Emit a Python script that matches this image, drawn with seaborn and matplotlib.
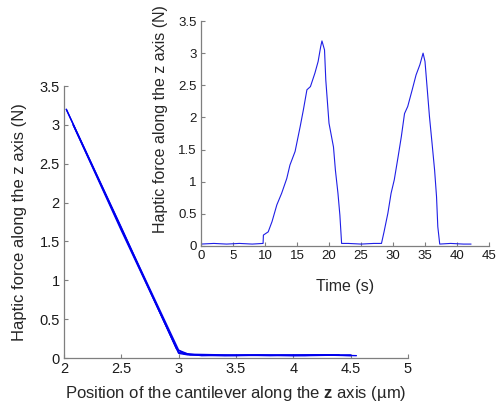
import matplotlib
matplotlib.use("Agg")
import matplotlib.pyplot as plt
import seaborn as sns
import pandas as pd

# ---- Main plot data: force vs cantilever position (several overlapping passes)
pos_pass1 = [4.55, 4.3, 4.0, 3.7, 3.4, 3.1, 3.0, 2.5, 2.02]
force_pass1 = [0.03, 0.04, 0.03, 0.04, 0.03, 0.04, 0.10, 1.67, 3.20]
pos_pass2 = [2.02, 2.5, 2.98, 3.05, 3.4, 3.8, 4.2, 4.5]
force_pass2 = [3.20, 1.68, 0.12, 0.05, 0.04, 0.03, 0.04, 0.03]
pos_pass3 = [4.5, 4.1, 3.6, 3.2, 3.0, 2.5, 2.08]
force_pass3 = [0.04, 0.03, 0.04, 0.03, 0.07, 1.64, 3.00]
pos_pass4 = [2.08, 2.5, 3.0, 3.08, 3.5, 3.9, 4.4]
force_pass4 = [3.00, 1.66, 0.06, 0.04, 0.03, 0.04, 0.04]

main_xticks = [2, 2.5, 3, 3.5, 4, 4.5, 5]
main_yticks = [0, 0.5, 1, 1.5, 2, 2.5, 3, 3.5]

# ---- Inset data: force vs time
time_s = [0, 2, 4, 6, 8, 9.7, 9.75, 10.5, 11.1, 11.85, 12.6, 13.4, 13.9, 14.7, 15.5, 16.0,
          16.55, 17.1, 17.8, 18.3, 18.7, 18.9, 19.3, 19.5, 20.0, 20.7,
          21.0, 21.4, 21.7, 21.97, 23, 25, 27, 28.2, 28.6, 29.2,
          29.7, 30.2, 30.8, 31.3, 31.8, 32.3, 33.0, 33.6, 34.2, 34.7,
          35.0, 35.7, 36.1, 36.5, 36.8, 37.0, 37.3, 39, 41, 42.2]
force_t = [0.03, 0.04, 0.03, 0.04, 0.03, 0.04, 0.17, 0.22, 0.38, 0.64, 0.82, 1.05, 1.26, 1.47, 1.86, 2.12,
           2.43, 2.48, 2.69, 2.87, 3.10, 3.19, 3.05, 2.58, 1.91, 1.54,
           1.18, 0.82, 0.48, 0.04, 0.04, 0.03, 0.04, 0.04, 0.22, 0.51,
           0.82, 1.03, 1.39, 1.70, 2.06, 2.17, 2.43, 2.66, 2.82, 3.00,
           2.87, 2.01, 1.60, 1.18, 0.77, 0.30, 0.03, 0.04, 0.03, 0.03]

inset_xticks = [0, 5, 10, 15, 20, 25, 30, 35, 40, 45]
inset_yticks = [0, 0.5, 1, 1.5, 2, 2.5, 3, 3.5]

sns.set_theme(style="white")
plt.rcParams["font.family"] = ["Liberation Sans", "DejaVu Sans"]
plt.rcParams["mathtext.fontset"] = "custom"
plt.rcParams["mathtext.rm"] = "Liberation Sans"
plt.rcParams["mathtext.bf"] = "Liberation Sans:bold"
plt.rcParams["text.color"] = "#1a1a1a"

fig = plt.figure(figsize=(4.98, 4.04), dpi=100)
fig.patch.set_facecolor("white")

spine_col = "#7f7f7f"
line_col = "#0000ee"


def style_axes(ax, fs):
    for s in ["top", "right"]:
        ax.spines[s].set_visible(False)
    for s in ["left", "bottom"]:
        ax.spines[s].set_color(spine_col)
        ax.spines[s].set_linewidth(0.9)
    ax.tick_params(direction="in", length=3, width=0.8, color=spine_col,
                   labelsize=fs, labelcolor="#1a1a1a", pad=3,
                   left=True, bottom=True)
    ax.set_facecolor("none")


fmt = lambda v, p: f"{v:g}"

# Main axes
ax = fig.add_axes([64 / 498, 1 - 358 / 404, 344 / 498, 272 / 404])
passes = [(pos_pass1, force_pass1), (pos_pass2, force_pass2),
          (pos_pass3, force_pass3), (pos_pass4, force_pass4)]
for px, fy in passes:
    df = pd.DataFrame({"pos": px, "force": fy})
    sns.lineplot(data=df, x="pos", y="force", sort=False, estimator=None,
                 color=line_col, lw=1.0, ax=ax)
ax.set_xlim(2, 5)
ax.set_ylim(0, 3.5)
ax.set_xticks(main_xticks)
ax.set_yticks(main_yticks)
ax.xaxis.set_major_formatter(plt.FuncFormatter(fmt))
ax.yaxis.set_major_formatter(plt.FuncFormatter(fmt))
style_axes(ax, 10.5)
ax.set_xlabel(r"Position of the cantilever along the $\mathbf{z}$ axis (µm)", fontsize=12)
ax.set_ylabel("Haptic force along the z axis (N)", fontsize=12)
ax.xaxis.set_label_coords(0.5, -0.097)
ax.yaxis.set_label_coords(-0.108, 0.5)

# Inset axes
ai = fig.add_axes([201 / 498, 1 - 246 / 404, 288 / 498, 225 / 404])
dfi = pd.DataFrame({"time": time_s, "force": force_t})
sns.lineplot(data=dfi, x="time", y="force", sort=False, estimator=None,
             color="#1f1fe6", lw=0.8, ax=ai)
ai.set_xlim(0, 45)
ai.set_ylim(0, 3.5)
ai.set_xticks(inset_xticks)
ai.set_yticks(inset_yticks)
ai.xaxis.set_major_formatter(plt.FuncFormatter(fmt))
ai.yaxis.set_major_formatter(plt.FuncFormatter(fmt))
style_axes(ai, 9.5)
ai.set_xlabel("Time (s)", fontsize=11.5)
ai.set_ylabel("Haptic force along the z axis (N)", fontsize=11.5)
ai.xaxis.set_label_coords(0.5, -0.145)
ai.yaxis.set_label_coords(-0.115, 0.564)

fig.savefig("out.png", dpi=100, facecolor="white")
